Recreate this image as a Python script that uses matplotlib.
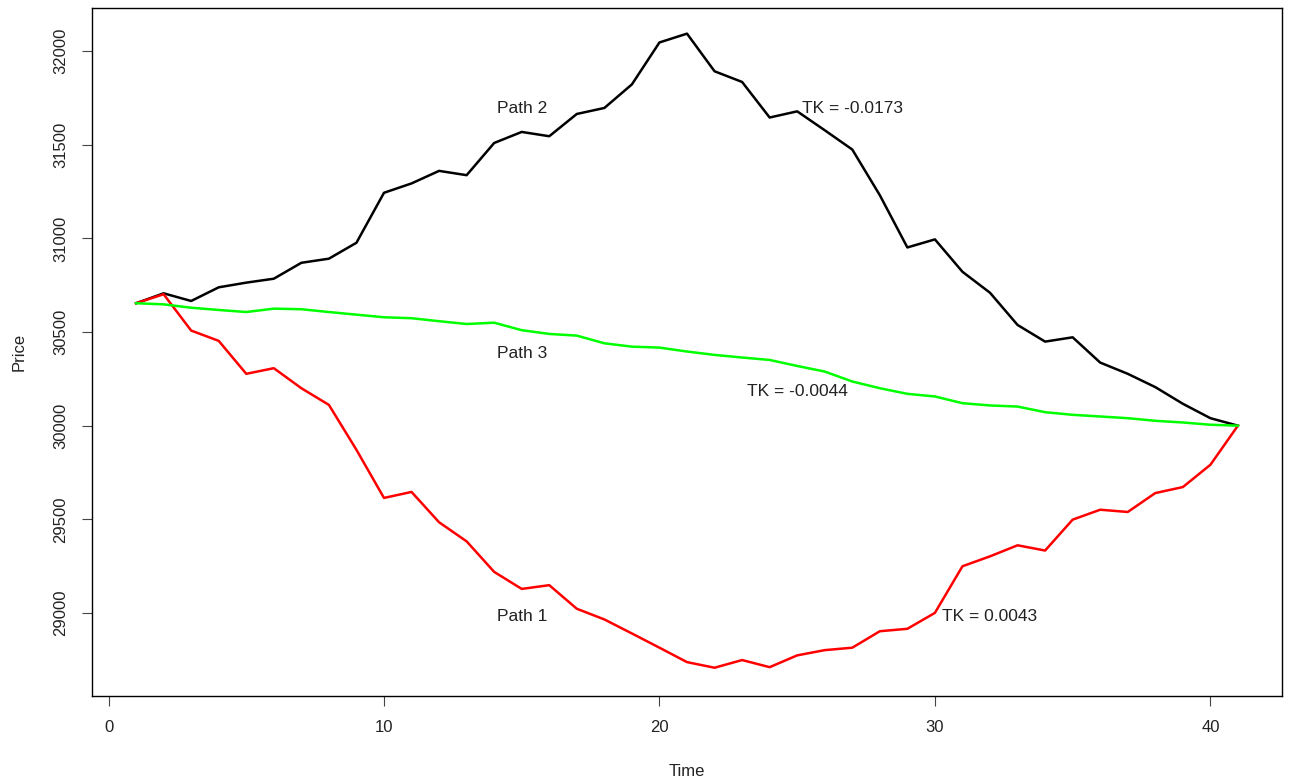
import matplotlib
matplotlib.use("Agg")
import matplotlib.pyplot as plt

plt.rcParams['font.family'] = ['Liberation Sans', 'DejaVu Sans']

# time steps 1..41
time = list(range(1, 42))

# simulated price paths
path1 = [30654, 30702, 30508, 30453, 30277, 30307, 30200, 30111, 29871, 29614,
         29646, 29484, 29382, 29219, 29128, 29148, 29022, 28965, 28890, 28814,
         28737, 28707, 28748, 28710, 28773, 28801, 28814, 28902, 28915, 29000,
         29249, 29302, 29361, 29333, 29498, 29551, 29539, 29640, 29672, 29791,
         30000]
path2 = [30654, 30707, 30666, 30739, 30764, 30785, 30870, 30892, 30977, 31244,
         31294, 31361, 31338, 31510, 31569, 31546, 31665, 31697, 31823, 32047,
         32094, 31893, 31836, 31646, 31679, 31578, 31475, 31231, 30952, 30995,
         30822, 30710, 30538, 30449, 30472, 30337, 30277, 30206, 30117, 30040,
         30000]
path3 = [30654, 30648, 30630, 30618, 30607, 30625, 30622, 30607, 30593, 30579,
         30574, 30558, 30543, 30550, 30510, 30490, 30481, 30440, 30422, 30417,
         30396, 30378, 30364, 30351, 30319, 30289, 30236, 30200, 30170, 30156,
         30120, 30108, 30102, 30072, 30058, 30049, 30040, 30026, 30017, 30005,
         30000]

# annotations: (x, y, text)
labels = [(15, 28983, "Path 1"), (15, 31692, "Path 2"), (15, 30388, "Path 3"),
          (32, 28983, "TK = 0.0043"), (27, 31692, "TK = -0.0173"),
          (25, 30184, "TK = -0.0044")]

xticks = [0, 10, 20, 30, 40]
yticks = [29000, 29500, 30000, 30500, 31000, 31500, 32000]

fig = plt.figure(figsize=(12.9, 7.82), dpi=100)
ax = fig.add_axes([92 / 1290, 86 / 782, 1190 / 1290, 688 / 782])

ax.plot(time, path2, color="black", lw=1.8)
ax.plot(time, path1, color="#FF0000", lw=1.8)
ax.plot(time, path3, color="#00FF00", lw=1.8)

for x, y, s in labels:
    ax.text(x, y, s, ha="center", va="center", fontsize=12.5, color="#222222")

ax.set_xlim(-0.6, 42.6)
ax.set_ylim(28556, 32231)
ax.set_xticks(xticks)
ax.set_yticks(yticks)
ax.set_yticklabels([str(v) for v in yticks], rotation=90, va="center")
ax.tick_params(direction="out", length=7.2, width=0.8, labelsize=12, pad=10,
               color="#444444", labelcolor="#222222")

for sp in ax.spines.values():
    sp.set_linewidth(1.0)
    sp.set_color("black")

ax.set_xlabel("Time", fontsize=12, labelpad=21, color="#222222")
ax.set_ylabel("Price", fontsize=12, labelpad=19, color="#222222")

fig.savefig("out.png", dpi=100)
